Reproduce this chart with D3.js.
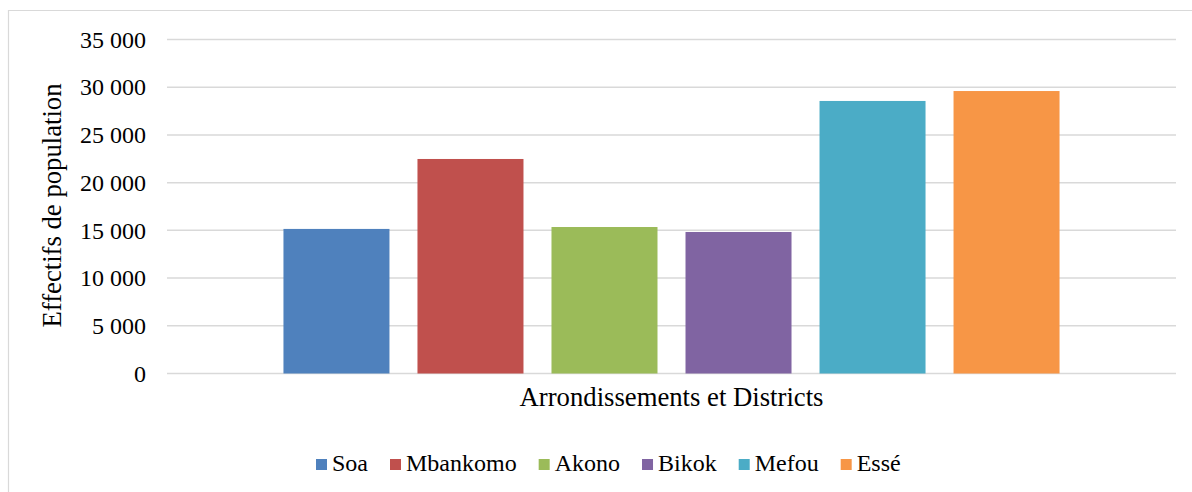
<!DOCTYPE html>
<html>
<head>
<meta charset="utf-8">
<script src="https://cdn.jsdelivr.net/npm/d3@7"></script>
<style>
  html, body { margin: 0; padding: 0; background: #fff; }
  svg text { font-family: "Liberation Serif", "DejaVu Serif", serif !important; fill: #000; }
</style>
</head>
<body>
<svg id="chart" width="1192" height="492"></svg>
<script>
// Population by district (single category, one series per district)
const series = ["Soa", "Mbankomo", "Akono", "Bikok", "Mefou", "Essé"];
const values = [15150, 22480, 15350, 14830, 28560, 29600];
const colors = ["#4F81BD", "#C0504D", "#9BBB59", "#8064A2", "#4BACC6", "#F79646"];
const yTicks = [0, 5000, 10000, 15000, 20000, 25000, 30000, 35000];
const yTitle = "Effectifs de population";
const xTitle = "Arrondissements et Districts";

const svg = d3.select("#chart");

// Chart area frame (left and top edges visible)
svg.append("path")
  .attr("d", "M8.5,492 V10.5 H1192")
  .attr("fill", "none")
  .attr("stroke", "#d9d9d9")
  .attr("stroke-width", 1.2);

const plot = { left: 167, right: 1176, top: 39.5, bottom: 373.5 };

const y = d3.scaleLinear()
  .domain([0, 35000])
  .range([plot.bottom, plot.top]);

const x = d3.scaleBand()
  .domain(series)
  .range([plot.left, plot.right])
  .paddingInner(0.209)
  .paddingOuter(0.869);

const fmt = v => d3.format(",")(v).replace(/,/g, " ");

// Gridlines
svg.append("g")
  .selectAll("line")
  .data(yTicks)
  .join("line")
  .attr("x1", plot.left)
  .attr("x2", plot.right)
  .attr("y1", d => y(d))
  .attr("y2", d => y(d))
  .attr("stroke", "#d9d9d9")
  .attr("stroke-width", 1.5);

// Y axis labels
const yAxis = d3.axisLeft(y).tickValues(yTicks).tickFormat(fmt).tickSize(0).tickPadding(0);
const gy = svg.append("g")
  .attr("transform", `translate(146,0)`)
  .call(yAxis);
gy.select(".domain").remove();
gy.selectAll("text")
  .attr("font-size", 24)
  .attr("dy", "0.32em");

// Bars
svg.append("g")
  .selectAll("rect")
  .data(series)
  .join("rect")
  .attr("x", d => x(d))
  .attr("width", x.bandwidth())
  .attr("y", (d, i) => y(values[i]))
  .attr("height", (d, i) => y(0) - y(values[i]))
  .attr("fill", (d, i) => colors[i]);

// Axis titles
svg.append("text")
  .attr("transform", `translate(61,205.5) rotate(-90)`)
  .attr("text-anchor", "middle")
  .attr("font-size", 26.7)
  .text(yTitle);

svg.append("text")
  .attr("x", (plot.left + plot.right) / 2)
  .attr("y", 406)
  .attr("text-anchor", "middle")
  .attr("font-size", 26.7)
  .text(xTitle);

// Legend
const legend = svg.append("g");
const items = legend.selectAll("g")
  .data(series)
  .join("g");
items.append("rect")
  .attr("width", 11)
  .attr("height", 11)
  .attr("y", -12)
  .attr("fill", (d, i) => colors[i]);
items.append("text")
  .attr("x", 16)
  .attr("y", 0)
  .attr("font-size", 24)
  .text(d => d);

let cx = 0;
items.each(function () {
  const g = d3.select(this);
  g.attr("transform", `translate(${cx},0)`);
  const w = g.select("text").node().getComputedTextLength();
  cx += 16 + w + 22;
});
legend.attr("transform", `translate(316,471)`);
</script>
</body>
</html>
